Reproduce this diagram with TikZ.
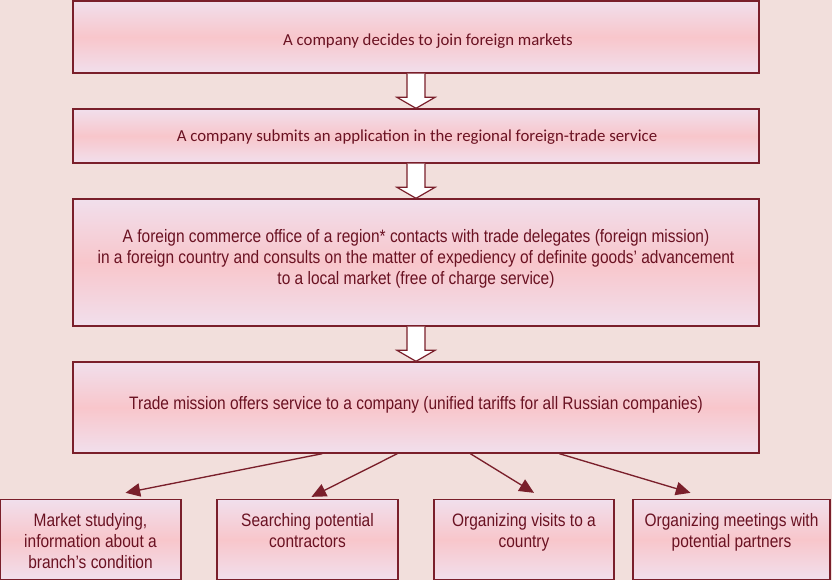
\documentclass[tikz,border=0pt]{standalone}
\usepackage{fontspec}
\setmainfont{Carlito}
\newfontfamily\narrowfont[FakeStretch=0.86]{Liberation Sans}
\usetikzlibrary{calc,arrows.meta}
\definecolor{bgc}{HTML}{F2DFDC}
\definecolor{edge}{HTML}{7A1F2B}
\definecolor{txt}{HTML}{6A1222}
\definecolor{lav}{HTML}{F1DFEC}
\definecolor{pinkm}{HTML}{F8C6CB}
\tikzset{
  box/.style={draw=edge, line width=1pt, rectangle, inner sep=0pt,
    top color=lav, bottom color=lav, middle color=pinkm, shading angle=0},
  lbl/.style={text=txt, align=center, inner sep=0pt},
  wide/.style={font=\fontsize{12.6pt}{15pt}\selectfont},
  narrow/.style={font=\narrowfont\fontsize{13.5pt}{15.75pt}\selectfont},
  blockarrow/.style={draw=edge, fill=white, line width=0.9pt, line join=miter},
  conn/.style={draw=edge, line width=1pt, -{Triangle[length=11pt,width=10pt]}}
}
\begin{document}
\begin{tikzpicture}[x=0.75pt,y=-0.75pt]
\useasboundingbox (0,0) rectangle (832,580);
\fill[bgc] (0,0) rectangle (832,580);
% main boxes
\node[box, minimum width=514.5pt, minimum height=54pt] (b1) at (416,37) {};
\node[box, minimum width=514.5pt, minimum height=40.5pt] (b2) at (416,136) {};
\node[box, minimum width=514.5pt, minimum height=95.25pt] (b3) at (416,262.5) {};
\node[box, minimum width=514.5pt, minimum height=68.25pt] (b4) at (416,407.5) {};
% bottom boxes
\node[box, minimum width=135.75pt, minimum height=60pt] (bA) at (90.5,539.5) {};
\node[box, minimum width=135.75pt, minimum height=60pt] (bB) at (307.5,539.5) {};
\node[box, minimum width=135pt, minimum height=60pt] (bC) at (524,539.5) {};
\node[box, minimum width=147.75pt, minimum height=60pt] (bD) at (731.5,539.5) {};
% texts
\node[lbl, wide] (t1) at (428,41) {A company decides to join foreign markets};
\node[lbl, wide] (t2) at (417,137) {A company submits an application in the regional foreign-trade service};
\node[lbl, narrow] (t3) at (416,259)
 {A foreign commerce office of a region* contacts with trade delegates (foreign mission)\\
  in a foreign country and consults on the matter of expediency of definite goods’ advancement\\
  to a local market (free of charge service)};
\node[lbl, narrow] (t4) at (416,405)
 {Trade mission offers service to a company (unified tariffs for all Russian companies)};
\node[lbl, narrow, anchor=north] (tA) at ($(bA.north)+(0,14)$)
 {Market studying,\\information about a\\branch’s condition};
\node[lbl, narrow, anchor=north] (tB) at ($(bB.north)+(0,14)$)
 {Searching potential\\contractors};
\node[lbl, narrow, anchor=north] (tC) at ($(bC.north)+(0,14)$)
 {Organizing visits to a\\country};
\node[lbl, narrow, anchor=north] (tD) at ($(bD.north)+(0,14)$)
 {Organizing meetings with\\potential partners};
% block arrows
\foreach \u/\l in {b1/b2, b2/b3, b3/b4} {
  \draw[blockarrow] ($(\u.south)+(-9,0)$) -- ($(\l.north)+(-9,-11)$) -- ($(\l.north)+(-19,-11)$)
    -- (\l.north) -- ($(\l.north)+(19,-11)$) -- ($(\l.north)+(9,-11)$) -- ($(\u.south)+(9,0)$);
}
% connectors
\coordinate (eA) at ($(bA.north)+(35,-6)$);
\coordinate (eB) at ($(bB.north)+(4,-2)$);
\coordinate (eC) at ($(bC.north)+(10,-6)$);
\coordinate (eD) at ($(bD.north)+(-41,-6)$);
\draw[conn] ($(b4.south west)+(250,0)$) -- (eA);
\draw[conn] ($(b4.south west)+(325,0)$) -- (eB);
\draw[conn] ($(b4.south west)+(398,0)$) -- (eC);
\draw[conn] ($(b4.south west)+(487,0)$) -- (eD);
\end{tikzpicture}
\end{document}
